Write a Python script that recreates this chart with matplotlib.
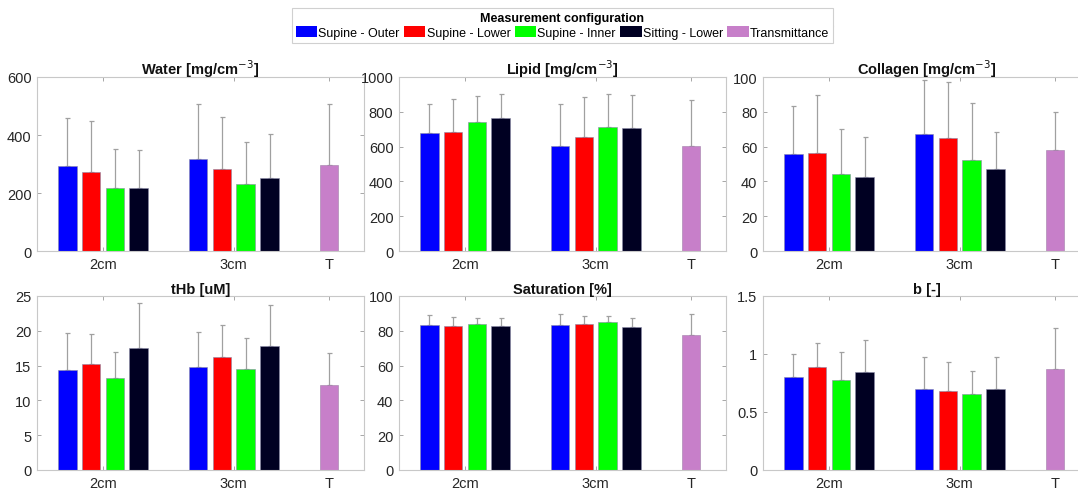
import numpy as np
import matplotlib
matplotlib.use('Agg')
import matplotlib.pyplot as plt
from matplotlib.patches import Patch
from matplotlib.lines import Line2D

plt.rcParams['font.family'] = ['Liberation Sans', 'DejaVu Sans']

# categories / series
groups = ['2cm', '3cm', 'T']
configs = ['Supine - Outer', 'Supine - Lower', 'Supine - Inner', 'Sitting - Lower', 'Transmittance']
colors = ['#0000ff', '#ff0000', '#00ff00', '#000022', '#c77fc9']

titles = ['Water [mg/cm$^{-3}$]', 'Lipid [mg/cm$^{-3}$]', 'Collagen [mg/cm$^{-3}$]',
          'tHb [uM]', 'Saturation [%]', 'b [-]']
ylims = [600, 1000, 100, 25, 100, 1.5]
yticks = [[0, 200, 400, 600], [0, 200, 400, 600, 800, 1000], [0, 20, 40, 60, 80, 100],
          [0, 5, 10, 15, 20, 25], [0, 20, 40, 60, 80, 100], [0, 0.5, 1, 1.5]]
ytick_labels = [None, None, None, None, None, ['0', '0.5', '1', '1.5']]

# means: 2cm, 3cm (4 configs each); transmittance single value; *_err = top of error bar
water_2cm = [292, 274, 217, 217]
water_3cm = [316, 282, 231, 251]
water_T = 298
water_2cm_err = [459, 448, 353, 349]
water_3cm_err = [507, 461, 376, 403]
water_T_err = 507

lipid_2cm = [676, 682, 741, 766]
lipid_3cm = [603, 655, 715, 705]
lipid_T = 602
lipid_2cm_err = [845, 874, 891, 900]
lipid_3cm_err = [845, 885, 904, 895]
lipid_T_err = 870

coll_2cm = [55.7, 56.3, 44.1, 42.3]
coll_3cm = [67.4, 65.1, 52.3, 47.3]
coll_T = 58.0
coll_2cm_err = [83.1, 89.8, 69.9, 65.5]
coll_3cm_err = [98.1, 97.1, 85.2, 68.4]
coll_T_err = 79.9

thb_2cm = [14.4, 15.2, 13.2, 17.5]
thb_3cm = [14.8, 16.2, 14.5, 17.8]
thb_T = 12.2
thb_2cm_err = [19.7, 19.5, 17.0, 24.0]
thb_3cm_err = [19.8, 20.8, 18.9, 23.7]
thb_T_err = 16.8

sat_2cm = [83.1, 82.9, 83.7, 82.5]
sat_3cm = [83.5, 84.1, 85.0, 82.0]
sat_T = 77.4
sat_2cm_err = [89.1, 87.9, 87.3, 87.3]
sat_3cm_err = [89.8, 88.3, 88.3, 87.3]
sat_T_err = 89.4

b_2cm = [0.806, 0.887, 0.780, 0.844]
b_3cm = [0.694, 0.685, 0.654, 0.700]
b_T = 0.867
b_2cm_err = [1.00, 1.094, 1.013, 1.12]
b_3cm_err = [0.976, 0.930, 0.855, 0.973]
b_T_err = 1.224

panels = [
    (water_2cm, water_3cm, water_T, water_2cm_err, water_3cm_err, water_T_err),
    (lipid_2cm, lipid_3cm, lipid_T, lipid_2cm_err, lipid_3cm_err, lipid_T_err),
    (coll_2cm, coll_3cm, coll_T, coll_2cm_err, coll_3cm_err, coll_T_err),
    (thb_2cm, thb_3cm, thb_T, thb_2cm_err, thb_3cm_err, thb_T_err),
    (sat_2cm, sat_3cm, sat_T, sat_2cm_err, sat_3cm_err, sat_T_err),
    (b_2cm, b_3cm, b_T, b_2cm_err, b_3cm_err, b_T_err),
]

W, H = 1078, 489
fig = plt.figure(figsize=(W / 100, H / 100), dpi=100)

lefts = [37, 399, 763]
tops = [78, 297]
aw, ah = 327, 174

centers = [0, 5.5, 9.5]
offsets = np.array([-1.5, -0.5, 0.5, 1.5])
bw = 0.78
spine_c = '#c8c8c8'
txt_c = '#262626'
err_c = '#a0a0a0'

for i, (m2, m3, mT, e2, e3, eT) in enumerate(panels):
    r, c = divmod(i, 3)
    ax = fig.add_axes([lefts[c] / W, 1 - (tops[r] + ah) / H, aw / W, ah / H])
    for g, (m, e) in enumerate([(m2, e2), (m3, e3)]):
        x = centers[g] + offsets
        ax.bar(x, m, width=bw, color=colors[:4], edgecolor='#8a8aa8', linewidth=0.4, zorder=2)
        ax.errorbar(x, m, yerr=[np.zeros(4), np.array(e) - np.array(m)], fmt='none',
                    ecolor=err_c, elinewidth=0.9, capsize=1.8, capthick=0.9, zorder=1)
    ax.bar([centers[2]], [mT], width=bw, color=colors[4], edgecolor='#a080a8', linewidth=0.4, zorder=2)
    ax.errorbar([centers[2]], [mT], yerr=[[0], [eT - mT]], fmt='none',
                ecolor=err_c, elinewidth=0.9, capsize=1.8, capthick=0.9, zorder=1)
    ax.set_xlim(-2.77, 10.97)
    ax.set_ylim(0, ylims[i])
    ax.set_yticks(yticks[i])
    if ytick_labels[i]:
        ax.set_yticklabels(ytick_labels[i])
    ax.set_xticks(centers)
    ax.set_xticklabels(groups)
    ax.tick_params(direction='in', length=3, width=0.6, color='#999999', labelcolor=txt_c,
                   labelsize=10.5, top=True, right=True, pad=4)
    for s in ax.spines.values():
        s.set_color(spine_c)
        s.set_linewidth(0.8)
    ax.set_title(titles[i], fontsize=10.5, fontweight='bold', pad=2, color='#111111')

handles = [Patch(facecolor=col, edgecolor='none') for col in colors]
leg = fig.legend(handles, configs, loc='upper center', bbox_to_anchor=(562.5 / W, 1 - 9 / H),
                 ncol=5, title='Measurement configuration', fontsize=9,
                 title_fontproperties={'weight': 'bold', 'size': 9},
                 handlelength=1.7, handleheight=1.0, handletextpad=0.1, columnspacing=0.35,
                 borderpad=0.3, borderaxespad=0, fancybox=False, framealpha=1,
                 edgecolor='#d0d0d0', labelspacing=0.2)
leg.get_frame().set_linewidth(0.8)

# separator line between legend title and entries
fig.canvas.draw()
r = fig.canvas.get_renderer()
lb = leg.get_window_extent(r)
tb = leg.get_title().get_window_extent(r)
yline = (tb.y0 - 2) / H
fig.add_artist(Line2D([lb.x0 / W, lb.x1 / W], [yline, yline], color='#d0d0d0', linewidth=0.8))

fig.savefig('out.png', dpi=100)
